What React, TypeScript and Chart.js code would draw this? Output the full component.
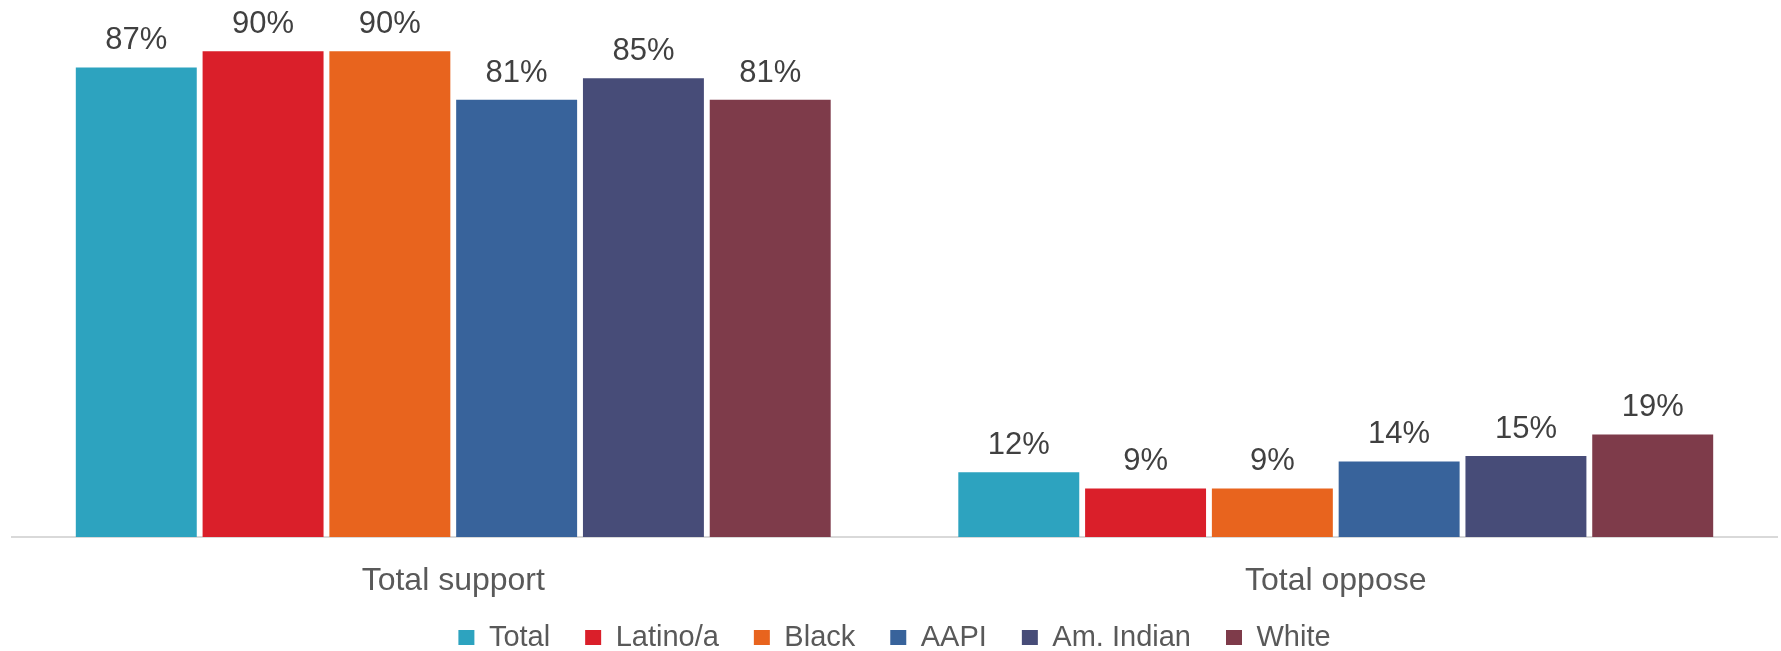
import React, { useEffect, useRef } from "react";
import { Chart, registerables } from "chart.js";

Chart.register(...registerables);

const categories = ["Total support", "Total oppose"];
const seriesNames = ["Total", "Latino/a", "Black", "AAPI", "Am. Indian", "White"];
const totalValues = [87, 12];
const latinoValues = [90, 9];
const blackValues = [90, 9];
const aapiValues = [81, 14];
const amIndianValues = [85, 15];
const whiteValues = [81, 19];
const seriesColors = ["#2DA3BF", "#DA1F2A", "#E8641E", "#38639B", "#474C78", "#7E3B4A"];

const FONT = "'Liberation Sans', Arial, sans-serif";

const dataLabelPlugin = {
  id: "dataLabels",
  afterDatasetsDraw(chart: any) {
    const ctx = chart.ctx;
    ctx.save();
    ctx.font = `31px ${FONT}`;
    ctx.fillStyle = "#404040";
    ctx.textAlign = "center";
    ctx.textBaseline = "alphabetic";
    chart.data.datasets.forEach((ds: any, i: number) => {
      const meta = chart.getDatasetMeta(i);
      meta.data.forEach((bar: any, j: number) => {
        ctx.fillText(`${ds.data[j]}%`, bar.x, bar.y - 18);
      });
    });
    ctx.restore();
  },
};

// let the category labels overflow the (compact) x-axis box without being clipped
const unclipXLabels = {
  id: "unclipXLabels",
  afterLayout(chart: any) {
    const s = chart.scales.x;
    if (s) s.bottom = chart.height;
  },
};

export default function App() {
  const ref = useRef<HTMLCanvasElement>(null);
  useEffect(() => {
    const allValues = [totalValues, latinoValues, blackValues, aapiValues, amIndianValues, whiteValues];
    const chart = new Chart(ref.current!, {
      type: "bar",
      data: {
        labels: categories,
        datasets: seriesNames.map((name, i) => ({
          label: name,
          data: allValues[i],
          backgroundColor: seriesColors[i],
          categoryPercentage: 0.862,
          barPercentage: 0.954,
        })),
      },
      options: {
        responsive: false,
        animation: false,
        layout: { padding: { top: 0, left: 12, right: 4, bottom: 0 } },
        plugins: {
          legend: {
            position: "bottom",
            maxHeight: 63,
            labels: {
              font: { family: FONT, size: 29 },
              color: "#595959",
              boxWidth: 16,
              boxHeight: 15,
              padding: 35,
            },
          },
          tooltip: { enabled: false },
        },
        scales: {
          x: {
            grid: { display: false, drawTicks: false },
            border: { display: true, color: "#d9d9d9", width: 2 },
            ticks: { font: { family: FONT, size: 32 }, color: "#595959", padding: 25 },
            afterFit: (scale: any) => {
              scale.height = 51;
            },
          },
          y: { display: false, min: 0, max: 99.5 },
        },
      },
      plugins: [dataLabelPlugin, unclipXLabels],
    });
    return () => chart.destroy();
  }, []);
  return (
    <div style={{ position: "fixed", left: 0, top: 0, width: 1781, height: 651, background: "#fff" }}>
      <canvas ref={ref} width={1781} height={651} style={{ width: 1781, height: 651 }} />
    </div>
  );
}
